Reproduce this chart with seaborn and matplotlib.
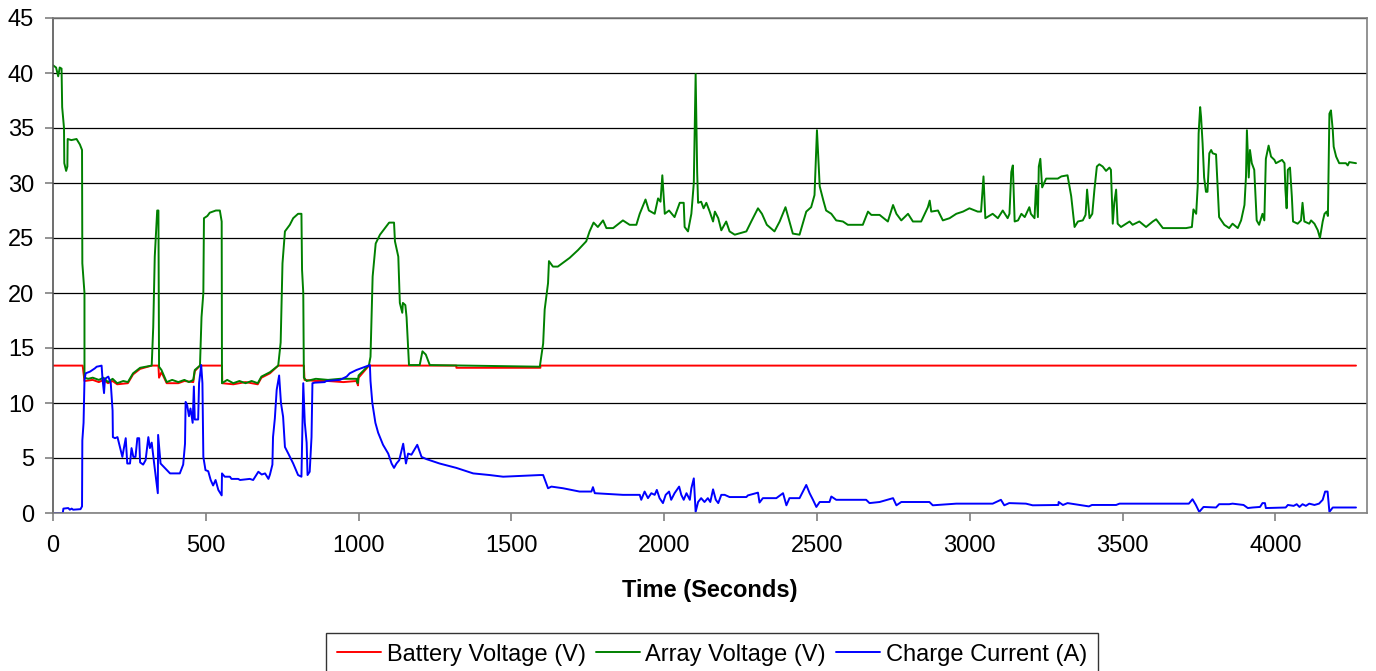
import matplotlib
matplotlib.use('Agg')
import matplotlib.pyplot as plt
import seaborn as sns
import pandas as pd

# (time s, value)
battery_voltage = [
    (0, 13.4), (97, 13.4), (103, 12.0), (130, 12.1), (150, 11.9), (165, 12.1), (180, 11.8),
    (195, 12.0), (210, 11.7), (245, 11.8), (262, 12.6), (285, 13.1), (323, 13.4), (345, 13.4),
    (347, 12.3), (355, 12.8), (372, 11.8), (410, 11.8), (430, 12.0), (459, 11.9), (464, 12.9),
    (481, 13.4), (553, 13.4), (554, 11.8), (590, 11.7), (630, 11.9), (670, 11.7), (682, 12.3),
    (710, 12.7), (737, 13.4), (821, 13.4), (823, 12.1), (860, 12.0), (900, 12.0), (950, 11.9),
    (993, 12.0), (998, 11.6), (1000, 12.3), (1034, 13.4), (1320, 13.4), (1320, 13.2),
    (1595, 13.2), (1595, 13.4), (4264, 13.4),
]

array_voltage = [
    (0, 40.7), (10, 40.5), (17, 39.7), (22, 40.5), (28, 40.4), (30, 36.9), (36, 35), (37, 31.8),
    (43, 31.1), (47, 31.5), (48, 34), (60, 33.9), (77, 34), (88, 33.5), (95, 33), (96, 22.7),
    (103, 20), (103, 12.3), (115, 12.2), (130, 12.3), (150, 12.1), (165, 12.3), (180, 11.9),
    (195, 12.2), (210, 11.8), (230, 12.0), (245, 11.9), (262, 12.7), (285, 13.2), (323, 13.4),
    (328, 16.9), (333, 23.3), (341, 27.5), (345, 27.5), (347, 13.3), (355, 13.0), (372, 11.9),
    (390, 12.1), (410, 11.9), (430, 12.1), (445, 11.9), (459, 12.1), (464, 13.0), (481, 13.4),
    (486, 17.8), (492, 20), (494, 26.8), (505, 27.0), (513, 27.3), (533, 27.5), (546, 27.5),
    (552, 26.5), (553, 11.8), (570, 12.1), (590, 11.8), (610, 12.0), (630, 11.8), (650, 12.0),
    (670, 11.8), (682, 12.4), (710, 12.8), (737, 13.4), (745, 15.5), (751, 22.7), (759, 25.6),
    (775, 26.2), (786, 26.8), (802, 27.2), (813, 27.2), (815, 22.1), (819, 20), (821, 12.3),
    (830, 12.0), (860, 12.2), (900, 12.1), (940, 12.2), (975, 12.2), (993, 12.2), (997, 11.8),
    (1000, 12.5), (1034, 13.45), (1039, 14.2), (1046, 21.5), (1056, 24.5), (1070, 25.3),
    (1100, 26.4), (1116, 26.4), (1119, 24.7), (1130, 23.3), (1135, 19.1), (1143, 18.2),
    (1145, 19.1), (1153, 18.9), (1157, 17.8), (1162, 15.1), (1165, 13.45), (1200, 13.45),
    (1209, 14.7), (1220, 14.4), (1233, 13.45), (1593, 13.3), (1604, 15.4), (1609, 18.5),
    (1620, 20.9), (1623, 22.9), (1636, 22.4), (1652, 22.4), (1691, 23.2), (1718, 23.9),
    (1745, 24.7), (1756, 25.6), (1769, 26.4), (1783, 26.0), (1800, 26.6), (1811, 25.9),
    (1833, 25.9), (1865, 26.6), (1887, 26.2), (1909, 26.2), (1920, 27.2), (1939, 28.5),
    (1950, 27.5), (1969, 27.2), (1980, 28.6), (1988, 28.3), (1994, 30.7), (2002, 27.2),
    (2016, 27.5), (2034, 26.9), (2051, 28.2), (2064, 28.2), (2067, 26), (2078, 25.6),
    (2089, 27.2), (2097, 30), (2103, 39.9), (2108, 31), (2111, 28.2), (2121, 28.3),
    (2129, 27.7), (2138, 28.2), (2149, 27.4), (2160, 26.5), (2166, 27.4), (2177, 26.8),
    (2187, 25.7), (2203, 26.5), (2214, 25.6), (2231, 25.3), (2269, 25.6), (2285, 26.5),
    (2307, 27.7), (2320, 27.2), (2336, 26.2), (2361, 25.6), (2378, 26.5), (2397, 27.8),
    (2410, 26.5), (2421, 25.4), (2443, 25.3), (2465, 27.4), (2481, 27.8), (2492, 28.9),
    (2500, 34.8), (2509, 29.7), (2521, 28.4), (2530, 27.5), (2547, 27.2), (2563, 26.6),
    (2585, 26.5), (2601, 26.2), (2650, 26.2), (2667, 27.4), (2678, 27.1), (2705, 27.1),
    (2732, 26.5), (2749, 28.0), (2760, 27.2), (2776, 26.6), (2798, 27.2), (2814, 26.5),
    (2841, 26.5), (2863, 27.8), (2869, 28.4), (2874, 27.4), (2896, 27.5), (2912, 26.6),
    (2934, 26.8), (2956, 27.2), (2978, 27.4), (2999, 27.7), (3026, 27.4), (3037, 27.4),
    (3045, 30.6), (3051, 26.8), (3075, 27.2), (3092, 26.8), (3108, 27.5), (3124, 26.8),
    (3130, 27.2), (3136, 31), (3141, 31.6), (3147, 26.5), (3158, 26.6), (3169, 27.2),
    (3180, 26.9), (3195, 27.8), (3200, 27.2), (3212, 26.8), (3217, 29.8), (3223, 26.9),
    (3226, 31.5), (3231, 32.2), (3237, 29.6), (3245, 30.1), (3250, 30.4), (3288, 30.4),
    (3300, 30.6), (3320, 30.7), (3332, 28.8), (3343, 26), (3354, 26.5), (3370, 26.6),
    (3379, 27.1), (3384, 29.4), (3392, 26.8), (3401, 27.2), (3408, 29.4), (3416, 31.5),
    (3424, 31.7), (3435, 31.5), (3446, 31.1), (3457, 31.4), (3462, 31.2), (3468, 26.3),
    (3473, 28.2), (3479, 29.4), (3484, 26.3), (3495, 26.0), (3523, 26.5), (3533, 26.2),
    (3555, 26.5), (3577, 26.0), (3599, 26.5), (3610, 26.7), (3632, 25.9), (3708, 25.9),
    (3727, 26), (3732, 27.6), (3741, 27.2), (3746, 29.7), (3749, 34.5), (3754, 36.9),
    (3757, 36), (3762, 33.6), (3767, 30.5), (3773, 29.2), (3778, 29.2), (3784, 32.7),
    (3790, 33), (3795, 32.7), (3806, 32.6), (3816, 26.9), (3833, 26.2), (3849, 25.9),
    (3860, 26.3), (3877, 25.9), (3888, 26.6), (3899, 28), (3904, 30.6), (3907, 34.8),
    (3913, 30.5), (3917, 33), (3923, 31.8), (3931, 31.2), (3939, 26.6), (3947, 26.2),
    (3958, 27.2), (3964, 26.6), (3969, 32.2), (3978, 33.4), (3986, 32.4), (3997, 32.1),
    (4002, 31.8), (4022, 32.1), (4030, 31.8), (4033, 29.4), (4037, 27.7), (4041, 31.2),
    (4048, 31.4), (4054, 28.8), (4058, 26.5), (4073, 26.3), (4084, 26.6), (4089, 28.2),
    (4095, 26.5), (4111, 26.3), (4117, 26.6), (4128, 26.3), (4139, 25.7), (4146, 25.0),
    (4155, 26.5), (4161, 27.2), (4168, 27.4), (4172, 27.0), (4177, 36.3), (4182, 36.6),
    (4188, 34.8), (4191, 33.3), (4199, 32.4), (4209, 31.8), (4231, 31.8), (4237, 31.6),
    (4242, 31.9), (4264, 31.8),
]

charge_current = [
    (0, 0.0), (32, 0.0), (34, 0.4), (50, 0.45), (55, 0.3), (61, 0.4), (66, 0.3), (90, 0.35),
    (95, 0.6), (96, 6.6), (100, 8.2), (103, 12.1), (107, 12.7), (121, 12.85), (137, 13.15),
    (143, 13.3), (152, 13.35), (159, 13.4), (162, 12.2), (167, 10.9), (170, 12.2), (181, 12.4),
    (189, 11.8), (195, 9.3), (196, 6.9), (203, 6.8), (211, 6.9), (219, 6.0), (227, 5.1),
    (232, 5.9), (238, 6.8), (243, 4.5), (252, 4.5), (257, 5.9), (263, 5.1), (270, 5.1),
    (276, 6.8), (282, 6.8), (285, 4.6), (295, 4.4), (303, 4.8), (312, 6.9), (317, 5.9),
    (323, 6.4), (331, 4.5), (339, 2.7), (343, 1.8), (344, 7.1), (352, 4.5), (366, 4.1),
    (383, 3.6), (415, 3.6), (426, 4.4), (432, 6.3), (434, 10.1), (439, 9.8), (445, 8.8),
    (450, 9.5), (457, 8.2), (461, 11.5), (464, 8.5), (475, 8.5), (478, 11.8), (485, 13.45),
    (489, 11.8), (492, 5.1), (499, 3.9), (508, 3.8), (516, 3.0), (524, 2.5), (532, 3.0),
    (541, 2.1), (552, 1.6), (553, 3.6), (562, 3.3), (579, 3.3), (584, 3.1), (606, 3.1),
    (612, 3.0), (644, 3.1), (655, 3.0), (672, 3.75), (683, 3.5), (694, 3.6), (705, 3.1),
    (710, 3.5), (718, 4.4), (720, 6.9), (726, 8.6), (732, 11.2), (740, 12.5), (746, 10),
    (753, 8.75), (759, 6.0), (770, 5.4), (786, 4.5), (802, 3.45), (813, 3.3), (819, 11.8),
    (824, 8.2), (830, 6.4), (833, 3.45), (840, 3.75), (846, 6.9), (849, 11.8), (857, 11.85),
    (889, 11.9), (894, 12.0), (939, 12.1), (961, 12.4), (971, 12.7), (993, 13.0),
    (1037, 13.45), (1039, 12.0), (1045, 10.0), (1055, 8.2), (1064, 7.3), (1080, 6.2),
    (1097, 5.4), (1108, 4.5), (1116, 4.1), (1124, 4.5), (1133, 4.8), (1146, 6.3), (1155, 4.5),
    (1162, 5.4), (1173, 5.3), (1192, 6.2), (1206, 5.1), (1222, 4.9), (1265, 4.5), (1320, 4.1),
    (1375, 3.6), (1429, 3.45), (1473, 3.3), (1593, 3.45), (1604, 3.45), (1620, 2.25),
    (1631, 2.4), (1669, 2.25), (1723, 1.95), (1762, 1.95), (1767, 2.35), (1773, 1.8),
    (1865, 1.65), (1920, 1.65), (1925, 1.2), (1936, 1.95), (1947, 1.35), (1958, 1.8),
    (1969, 1.65), (1976, 2.1), (1985, 1.35), (1996, 0.9), (2005, 1.65), (2016, 1.95),
    (2023, 1.2), (2034, 1.8), (2049, 2.4), (2056, 1.65), (2064, 1.2), (2073, 1.8),
    (2084, 1.2), (2089, 2.25), (2097, 3.15), (2103, 0.1), (2111, 1.0), (2121, 1.35),
    (2132, 1.0), (2143, 1.35), (2151, 1.0), (2160, 2.15), (2169, 1.2), (2177, 0.9),
    (2187, 1.65), (2198, 1.65), (2214, 1.45), (2269, 1.45), (2274, 1.6), (2307, 1.85),
    (2312, 0.95), (2323, 1.35), (2367, 1.35), (2389, 1.8), (2400, 0.7), (2410, 1.35),
    (2443, 1.35), (2465, 2.55), (2476, 1.8), (2487, 1.2), (2498, 0.55), (2509, 1.0),
    (2541, 1.0), (2547, 1.5), (2563, 1.2), (2661, 1.2), (2672, 0.9), (2705, 1.0),
    (2749, 1.35), (2760, 0.7), (2776, 1.0), (2868, 1.0), (2879, 0.7), (2956, 0.85),
    (3075, 0.85), (3102, 1.2), (3113, 0.7), (3129, 0.9), (3184, 0.85), (3206, 0.7),
    (3290, 0.73), (3291, 1.0), (3305, 0.73), (3320, 0.9), (3390, 0.6), (3400, 0.73),
    (3479, 0.73), (3490, 0.85), (3717, 0.85), (3729, 1.25), (3740, 0.73), (3751, 0.1),
    (3765, 0.55), (3806, 0.5), (3816, 0.8), (3849, 0.8), (3860, 0.85), (3896, 0.73),
    (3910, 0.45), (3926, 0.5), (3950, 0.55), (3958, 0.9), (3966, 0.9), (3969, 0.45),
    (4034, 0.5), (4041, 0.73), (4060, 0.65), (4070, 0.8), (4079, 0.55), (4089, 0.8),
    (4100, 0.65), (4111, 0.85), (4128, 0.73), (4143, 0.85), (4155, 1.2), (4163, 1.95),
    (4171, 1.95), (4177, 0.1), (4188, 0.5), (4264, 0.5),
]

series = [
    ('Battery Voltage (V)', battery_voltage, '#ff0000'),
    ('Array Voltage (V)', array_voltage, '#008000'),
    ('Charge Current (A)', charge_current, '#0000ff'),
]

sns.set_style('white')
plt.rcParams['font.family'] = ['Liberation Sans', 'DejaVu Sans']
plt.rcParams['text.color'] = 'black'
plt.rcParams['axes.labelcolor'] = 'black'

fig = plt.figure(figsize=(13.76, 6.71), dpi=100)
ax = fig.add_axes([53 / 1376, 1 - 513 / 671, 1314 / 1376, 495 / 671])

for name, pts, color in series:
    df = pd.DataFrame(pts, columns=['Time', 'Value'])
    sns.lineplot(data=df, x='Time', y='Value', ax=ax, color=color, label=name,
                 estimator=None, sort=False, linewidth=1.4)

ax.set_xlim(0, 4300)
ax.set_ylim(0, 45)
ax.set_xticks(range(0, 4001, 500))
ax.set_yticks(range(0, 46, 5))
ax.yaxis.grid(True, color='#000000', linewidth=0.9)
ax.set_axisbelow(True)
for sp in ax.spines.values():
    sp.set_color('#808080')
    sp.set_linewidth(1.2)
ax.spines['left'].set_color('#555555')
ax.tick_params(axis='both', direction='out', length=5.5, width=1.2, color='#808080',
               labelsize=17, labelcolor='black', left=True, bottom=True)
ax.tick_params(axis='x', pad=10)
ax.tick_params(axis='y', pad=8)
ax.set_xlabel('Time (Seconds)', fontsize=17, fontweight='bold', labelpad=16.5, color='black')
ax.set_ylabel('')

handles, labels = ax.get_legend_handles_labels()
ax.get_legend().remove()
leg = fig.legend(handles, labels, loc='upper center', bbox_to_anchor=(712 / 1376, 1 - 633 / 671),
                 ncol=3, fontsize=17, frameon=True, fancybox=False, borderaxespad=0,
                 handlelength=1.86, handletextpad=0.25, columnspacing=0.42, borderpad=0.45,
                 labelcolor='black')
leg.get_frame().set_edgecolor('black')
leg.get_frame().set_linewidth(1.0)

fig.savefig('out.png', dpi=100)
